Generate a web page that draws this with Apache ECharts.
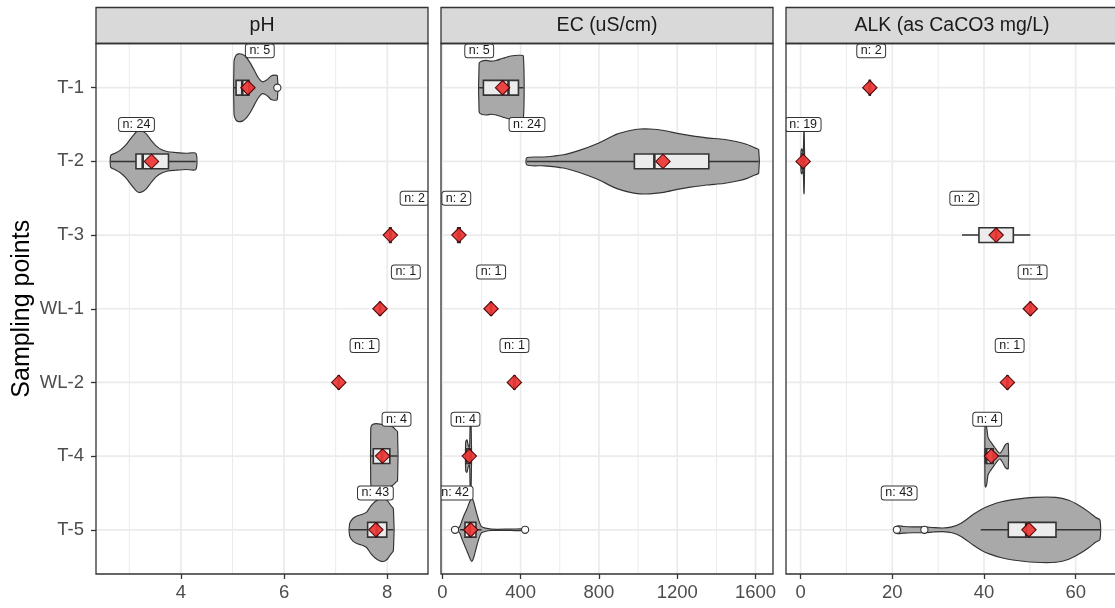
<!DOCTYPE html>
<html>
<head>
<meta charset="utf-8">
<script src="https://cdn.jsdelivr.net/npm/echarts@6/dist/echarts.min.js"></script>
<style>
  html, body { margin: 0; padding: 0; background: #ffffff; }
  #chart { width: 1115px; height: 608px; }
</style>
</head>
<body>
<div id="chart"></div>
<script>
// Sampling points, top to bottom
const sites = ['T-1', 'T-2', 'T-3', 'WL-1', 'WL-2', 'T-4', 'T-5'];
const panelTitles = ['pH', 'EC (uS/cm)', 'ALK (as CaCO3 mg/L)'];

// Axis ticks (major labelled, minor only as grid lines)
const phTicks = [4, 6, 8];
const phMinorTicks = [3, 5, 7];
const ecTicks = [0, 400, 800, 1200, 1600];
const ecMinorTicks = [200, 600, 1000, 1400];
const alkTicks = [0, 20, 40, 60];
const alkMinorTicks = [10, 30, 50];

// ---- pH ----
const phCount = [5, 24, 2, 1, 1, 4, 43];
// [lower whisker, Q1, median, Q3, upper whisker]
const phBox = [
  [5.03, 5.07, 5.19, 5.32, 5.32],
  [2.64, 3.13, 3.26, 3.76, 4.29],
  [8.03, 8.045, 8.06, 8.075, 8.09],
  [7.86, 7.86, 7.86, 7.86, 7.86],
  [7.06, 7.06, 7.06, 7.06, 7.06],
  [7.68, 7.73, 7.90, 8.05, 8.20],
  [7.27, 7.62, 7.80, 7.99, 8.12]
];
const phMean = [5.30, 3.43, 8.06, 7.86, 7.06, 7.91, 7.78];
const phOutliers = [[5.87], [], [], [], [], [], []];
// density outline: [value, half width as a fraction of one row]
const phViolin = [
  [[5.03, 0.36], [5.07, 0.44], [5.12, 0.46], [5.20, 0.45], [5.27, 0.41], [5.35, 0.33], [5.42, 0.24], [5.48, 0.16],
   [5.53, 0.11], [5.58, 0.08], [5.63, 0.09], [5.69, 0.12], [5.75, 0.16], [5.81, 0.17], [5.87, 0.16]],
  [[2.64, 0.08], [2.72, 0.11], [2.82, 0.15], [2.93, 0.22], [3.05, 0.33], [3.15, 0.41], [3.22, 0.42], [3.32, 0.38],
   [3.42, 0.29], [3.52, 0.21], [3.62, 0.16], [3.75, 0.13], [3.90, 0.12], [4.10, 0.11], [4.29, 0.11]],
  [], [], [],
  [[7.68, 0.36], [7.70, 0.42], [7.78, 0.44], [7.90, 0.43], [8.02, 0.42], [8.10, 0.40], [8.16, 0.36], [8.20, 0.33]],
  [[7.27, 0.08], [7.33, 0.15], [7.42, 0.19], [7.52, 0.21], [7.60, 0.24], [7.68, 0.32], [7.76, 0.38], [7.85, 0.42],
   [7.93, 0.43], [8.00, 0.40], [8.06, 0.34], [8.12, 0.28]]
];

// ---- EC ----
const ecCount = [5, 24, 2, 1, 1, 4, 42];
const ecBox = [
  [188, 210, 338, 389, 414],
  [432, 981, 1083, 1361, 1616],
  [71, 78.5, 85, 91.5, 99],
  [249, 249, 249, 249, 249],
  [368, 368, 368, 368, 368],
  [118, 125, 140, 147, 150],
  [90, 116, 140, 172, 201]
];
const ecMean = [308, 1127, 85, 249, 368, 138, 145];
const ecOutliers = [[], [], [], [], [], [], [65, 423]];
const ecViolin = [
  [[188, 0.33], [200, 0.36], [225, 0.37], [250, 0.36], [275, 0.37], [310, 0.40], [350, 0.43], [390, 0.44], [414, 0.43]],
  [[432, 0.05], [520, 0.06], [619, 0.09], [700, 0.15], [790, 0.24], [892, 0.37], [960, 0.42], [1011, 0.44], [1060, 0.44],
   [1131, 0.42], [1200, 0.38], [1267, 0.35], [1350, 0.32], [1437, 0.30], [1500, 0.27], [1557, 0.23], [1600, 0.18], [1616, 0.16]],
  [], [], [],
  [[118, 0.03], [120, 0.20], [126, 0.22], [133, 0.14], [139, 0.12], [142, 0.40], [145, 0.48], [147, 0.44], [149, 0.15], [150, 0.02]],
  [[65, 0.01], [80, 0.02], [90, 0.05], [100, 0.12], [107, 0.17], [125, 0.28], [140, 0.38], [150, 0.43], [160, 0.38],
   [176, 0.22], [190, 0.10], [201, 0.04], [250, 0.01], [350, 0.01], [423, 0.01]]
];

// ---- ALK ----
const alkCount = [2, 19, 2, 1, 1, 4, 43];
const alkBox = [
  [14.9, 15.0, 15.1, 15.2, 15.3],
  [0.06, 0.30, 0.65, 0.80, 0.95],
  [35.2, 38.9, 42.65, 46.4, 50.1],
  [50.1, 50.1, 50.1, 50.1, 50.1],
  [45.1, 45.1, 45.1, 45.1, 45.1],
  [40.2, 40.3, 40.5, 42.0, 45.3],
  [39.3, 45.3, 49.2, 55.7, 65.3]
];
const alkMean = [15.1, 0.56, 42.65, 50.1, 45.1, 41.6, 49.8];
const alkOutliers = [[], [], [], [], [], [], [21.0, 27.0]];
const alkViolin = [
  [],
  [[0.06, 0.02], [0.10, 0.14], [0.25, 0.17], [0.40, 0.15], [0.55, 0.10], [0.64, 0.22], [0.70, 0.40], [0.76, 0.44],
   [0.82, 0.30], [0.88, 0.08], [0.95, 0.02]],
  [], [], [],
  [[40.2, 0.36], [40.35, 0.42], [40.6, 0.38], [40.9, 0.25], [41.5, 0.19], [42.3, 0.12], [43.0, 0.06], [43.5, 0.04],
   [44.0, 0.08], [44.6, 0.15], [45.0, 0.17], [45.3, 0.17]],
  [[21.0, 0.05], [22.5, 0.045], [24.5, 0.04], [27.0, 0.04], [29.0, 0.03], [31.0, 0.025], [33.0, 0.04], [35.0, 0.09],
   [37.7, 0.21], [39.5, 0.28], [41.3, 0.33], [43.8, 0.38], [46.3, 0.41], [51.0, 0.44], [55.7, 0.44], [58.5, 0.40],
   [61.0, 0.32], [62.9, 0.24], [64.3, 0.17], [65.3, 0.13]]
];

// Panel x ranges (with the usual 5% padding round the data)
const phRange = [2.355, 8.79];
const ecRange = [-6.6, 1689];
const alkRange = [-3.18, 68.57];

// ---- assembly ----
const panels = [
  { title: panelTitles[0], range: phRange, ticks: phTicks, minor: phMinorTicks, count: phCount, box: phBox, mean: phMean, outliers: phOutliers, violin: phViolin },
  { title: panelTitles[1], range: ecRange, ticks: ecTicks, minor: ecMinorTicks, count: ecCount, box: ecBox, mean: ecMean, outliers: ecOutliers, violin: ecViolin },
  { title: panelTitles[2], range: alkRange, ticks: alkTicks, minor: alkMinorTicks, count: alkCount, box: alkBox, mean: alkMean, outliers: alkOutliers, violin: alkViolin }
];

const layout = { lefts: [96, 441, 786], width: 332, top: 43.5, height: 530.5, stripTop: 7.5, stripH: 36 };
const FONT = "'Liberation Sans', Arial, Helvetica, sans-serif";
const DARK = '#333333';
const GRID_COLOR = '#ebebeb';
const BOX_HALF = 0.1;
const siteIdx = sites.map((s, i) => i);

const grids = [], xAxes = [], yAxes = [], series = [], graphics = [];

panels.forEach((p, k) => {
  grids.push({ left: layout.lefts[k], top: layout.top, width: layout.width, height: layout.height, show: true, backgroundColor: '#ffffff', borderWidth: 0 });

  xAxes.push({
    type: 'value', gridIndex: k, min: p.range[0], max: p.range[1],
    axisLine: { show: false, onZero: false },
    axisTick: { show: true, length: 5, customValues: p.ticks, lineStyle: { color: DARK, width: 1.3 } },
    axisLabel: { show: true, customValues: p.ticks, margin: 9, color: '#4d4d4d', fontSize: 18.5, fontFamily: FONT, formatter: v => String(v) },
    splitLine: { show: false }, minorSplitLine: { show: false }
  });

  yAxes.push({
    type: 'value', gridIndex: k, inverse: true, min: -0.6, max: 6.6,
    name: k === 0 ? 'Sampling points' : '',
    nameLocation: 'middle', nameGap: 61, nameRotate: 90,
    nameTextStyle: { fontSize: 25, color: '#000000', fontFamily: FONT },
    axisLine: { show: false, onZero: false },
    axisTick: { show: k === 0, length: 5, customValues: siteIdx, lineStyle: { color: DARK, width: 1.3 } },
    axisLabel: { show: k === 0, customValues: siteIdx, margin: 12, color: '#4d4d4d', fontSize: 18.5, fontFamily: FONT, formatter: v => sites[Math.round(v)] },
    splitLine: { show: false }
  });

  // panel grid: minor and major verticals plus one horizontal line per sampling point
  series.push({
    type: 'custom', xAxisIndex: k, yAxisIndex: k, z: 1, silent: true, clip: true,
    data: [[p.range[0], 0]],
    renderItem(params, api) {
      const cs = params.coordSys;
      const kids = [];
      const vline = (v, w) => {
        const x = api.coord([v, 0])[0];
        kids.push({ type: 'rect', shape: { x: x - w / 2, y: cs.y, width: w, height: cs.height }, style: { fill: GRID_COLOR } });
      };
      p.minor.forEach(v => vline(v, 1.0));
      p.ticks.forEach(v => vline(v, 1.7));
      siteIdx.forEach(i => {
        const y = api.coord([p.range[0], i])[1];
        kids.push({ type: 'rect', shape: { x: cs.x, y: y - 0.85, width: cs.width, height: 1.7 }, style: { fill: GRID_COLOR } });
      });
      return { type: 'group', children: kids };
    }
  });

  const rowData = siteIdx.map(i => [p.mean[i], i]);

  // violins
  series.push({
    type: 'custom', xAxisIndex: k, yAxisIndex: k, z: 2, silent: true, clip: true, data: rowData,
    renderItem(params, api) {
      const i = api.value(1);
      const prof = p.violin[i];
      if (!prof.length) return null;
      const pts = [];
      prof.forEach(([v, w]) => pts.push(api.coord([v, i - w])));
      for (let j = prof.length - 1; j >= 0; j--) pts.push(api.coord([prof[j][0], i + prof[j][1]]));
      return { type: 'polygon', shape: { points: pts, smooth: 0.25 }, style: { fill: '#a9a9a9', stroke: DARK, lineWidth: 1.15 } };
    }
  });

  // boxplots
  series.push({
    type: 'custom', xAxisIndex: k, yAxisIndex: k, z: 3, silent: true, clip: true, data: rowData,
    renderItem(params, api) {
      const i = api.value(1);
      const b = p.box[i];
      const X = b.map(v => api.coord([v, i])[0]);
      const yM = api.coord([b[0], i])[1];
      const y1 = api.coord([b[0], i - BOX_HALF])[1];
      const y2 = api.coord([b[0], i + BOX_HALF])[1];
      const yT = Math.min(y1, y2), yB = Math.max(y1, y2);
      return {
        type: 'group',
        children: [
          { type: 'line', shape: { x1: X[0], y1: yM, x2: X[1], y2: yM }, style: { stroke: DARK, lineWidth: 1.5 } },
          { type: 'line', shape: { x1: X[3], y1: yM, x2: X[4], y2: yM }, style: { stroke: DARK, lineWidth: 1.5 } },
          { type: 'rect', shape: { x: X[1], y: yT, width: X[3] - X[1], height: yB - yT }, style: { fill: '#ececec', stroke: DARK, lineWidth: 1.6 } },
          { type: 'line', shape: { x1: X[2], y1: yT, x2: X[2], y2: yB }, style: { stroke: DARK, lineWidth: 2.6 } }
        ]
      };
    }
  });

  // outliers
  series.push({
    type: 'custom', xAxisIndex: k, yAxisIndex: k, z: 4, silent: true, clip: true, data: rowData,
    renderItem(params, api) {
      const i = api.value(1);
      const outs = p.outliers[i];
      if (!outs.length) return null;
      return {
        type: 'group',
        children: outs.map(v => {
          const c = api.coord([v, i]);
          return { type: 'circle', shape: { cx: c[0], cy: c[1], r: 3.6 }, style: { fill: '#ffffff', stroke: DARK, lineWidth: 1.1 } };
        })
      };
    }
  });

  // means
  series.push({
    type: 'custom', xAxisIndex: k, yAxisIndex: k, z: 5, silent: true, clip: true, data: rowData,
    renderItem(params, api) {
      const c = api.coord([api.value(0), api.value(1)]);
      const s = 7.2;
      return {
        type: 'polygon',
        shape: { points: [[c[0], c[1] - s], [c[0] + s, c[1]], [c[0], c[1] + s], [c[0] - s, c[1]]] },
        style: { fill: '#ec3434', stroke: '#4a0000', lineWidth: 1.1, opacity: 0.92 }
      };
    }
  });

  // sample size labels, placed just right of each group's minimum, half a row above
  series.push({
    type: 'custom', xAxisIndex: k, yAxisIndex: k, z: 6, silent: true, clip: true, data: rowData,
    renderItem(params, api) {
      const i = api.value(1);
      const lo = Math.min(p.box[i][0], ...p.outliers[i]);
      const c = api.coord([lo + 0.5, i - 0.5]);
      return {
        type: 'text',
        style: {
          text: 'n: ' + p.count[i], x: c[0], y: c[1], align: 'center', verticalAlign: 'middle',
          fontSize: 12.5, fontFamily: FONT, fill: '#1a1a1a', lineHeight: 13,
          backgroundColor: '#ffffff', borderColor: DARK, borderWidth: 1, borderRadius: 2.5, padding: [0, 3.5]
        }
      };
    }
  });

  // facet strip and panel frame
  graphics.push({
    type: 'rect', z: 50,
    shape: { x: layout.lefts[k], y: layout.stripTop, width: layout.width, height: layout.stripH },
    style: { fill: '#d9d9d9', stroke: DARK, lineWidth: 1.3 }
  });
  graphics.push({
    type: 'text', z: 51,
    style: { text: p.title, x: layout.lefts[k] + layout.width / 2, y: layout.stripTop + layout.stripH / 2,
             align: 'center', verticalAlign: 'middle', fontSize: 19.5, fontFamily: FONT, fill: '#1a1a1a' }
  });
  graphics.push({
    type: 'rect', z: 50,
    shape: { x: layout.lefts[k], y: layout.top, width: layout.width, height: layout.height },
    style: { fill: 'none', stroke: DARK, lineWidth: 1.3 }
  });
});

const chart = echarts.init(document.getElementById('chart'), null, { renderer: 'canvas' });
chart.setOption({
  animation: false,
  backgroundColor: '#ffffff',
  grid: grids,
  xAxis: xAxes,
  yAxis: yAxes,
  series: series,
  graphic: { elements: graphics }
});
</script>
</body>
</html>
